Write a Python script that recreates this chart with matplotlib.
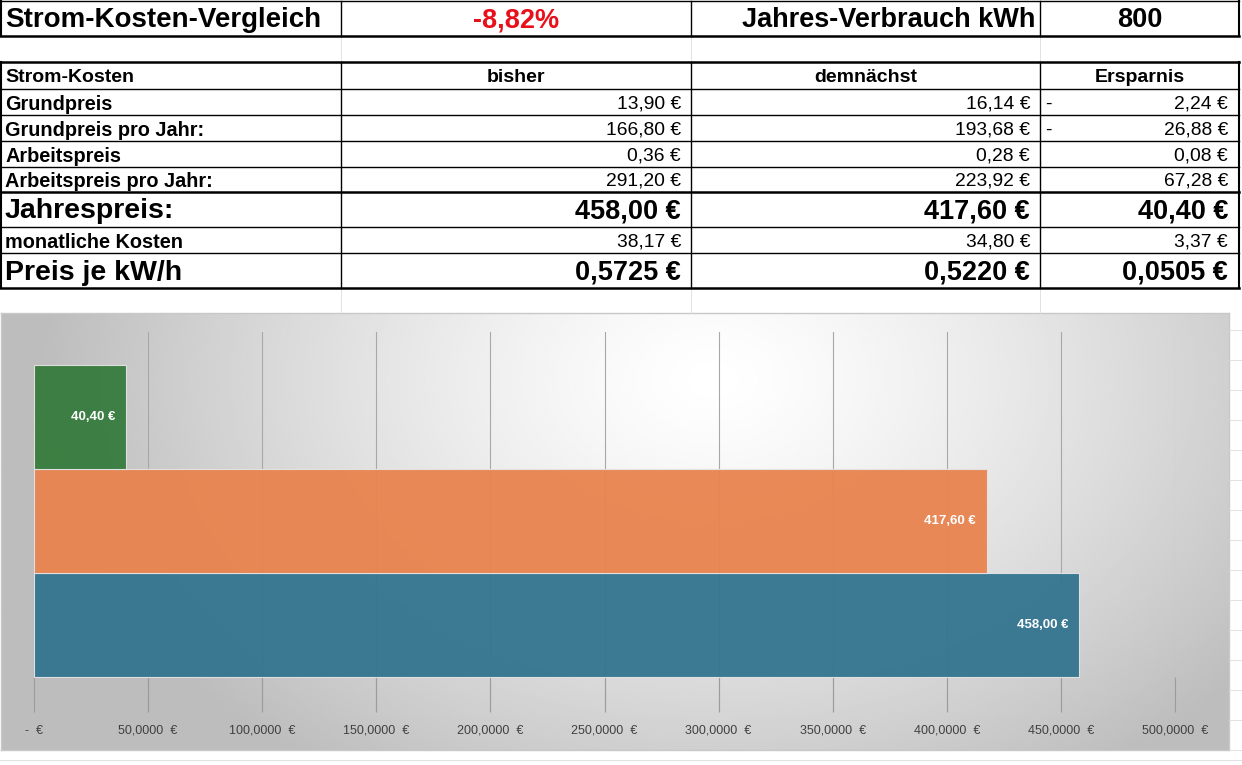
import numpy as np
import matplotlib
matplotlib.use("Agg")
import matplotlib.pyplot as plt
from matplotlib.lines import Line2D

# --- data ---
headline = "Strom-Kosten-Vergleich"
change_pct = "-8,82%"
usage_label = "Jahres-Verbrauch kWh"
usage_kwh = 800

col_headers = ["Strom-Kosten", "bisher", "demnächst", "Ersparnis"]
row_labels = ["Grundpreis", "Grundpreis pro Jahr:", "Arbeitspreis", "Arbeitspreis pro Jahr:",
              "Jahrespreis:", "monatliche Kosten", "Preis je kW/h"]
bisher = [13.90, 166.80, 0.36, 291.20, 458.00, 38.17, 0.5725]
demnaechst = [16.14, 193.68, 0.28, 223.92, 417.60, 34.80, 0.5220]
ersparnis = [-2.24, -26.88, 0.08, 67.28, 40.40, 3.37, 0.0505]
big_rows = [4, 6]

chart_names = ["bisher", "demnächst", "Ersparnis"]
chart_values = [458.00, 417.60, 40.40]
chart_colors = ["#33748f", "#e8834e", "#367b3d"]
x_ticks = [0, 50, 100, 150, 200, 250, 300, 350, 400, 450, 500]

W, H = 1242, 765
FONT = ["Liberation Sans", "DejaVu Sans"]


def fx(x):
    return x / W


def fy(y):
    return 1 - y / H


def euro(v, dec=2):
    s = f"{abs(v):,.{dec}f}".replace(",", "X").replace(".", ",").replace("X", ".")
    return s + " €"


fig = plt.figure(figsize=(W / 100, H / 100), dpi=100)
fig.patch.set_facecolor("white")


def hline(y, x0, x1, lw=1.0, color="black"):
    fig.add_artist(Line2D([fx(x0), fx(x1)], [fy(y), fy(y)], lw=lw, color=color))


def vline(x, y0, y1, lw=1.0, color="black"):
    fig.add_artist(Line2D([fx(x), fx(x)], [fy(y0), fy(y1)], lw=lw, color=color))


def cell(x, y, s, size, ha="left", weight="bold", color="black"):
    fig.text(fx(x), fy(y), s, family=FONT, weight=weight, fontsize=size,
             color=color, ha=ha, va="center")


cols = [1, 341, 691, 1040, 1239]

# faint spreadsheet grid
for x in cols[1:4]:
    vline(x, 36, 62, 0.6, "#dddddd")
    vline(x, 288, 313, 0.6, "#dddddd")
for y in [330, 360, 390, 420, 450, 480, 510, 540, 570, 600, 630, 660, 690, 720, 750]:
    hline(y, 1229, 1242, 0.6, "#dddddd")
hline(760, 0, 1242, 0.6, "#dddddd")

# --- top row ---
hline(1, 0, 1239, 1.0)
hline(36, 0, 1239, 1.8)
for x in cols:
    vline(x, 1, 36, 1.5 if x in (1, 1239) else 1.0)
cell(5, 20, headline, 20)
cell(516, 20, change_pct, 19.5, ha="center", color="#e8101a")
cell(1035, 20, usage_label, 19.5, ha="right")
cell(1140, 20, str(usage_kwh), 19.5, ha="center")

# --- table ---
row_edges = [62, 89, 115, 141, 167, 192, 227, 253, 288]
thick = {62, 192, 288}
for y in row_edges:
    hline(y, 0, 1239, 1.8 if y in thick else 1.0)
for x in cols:
    vline(x, 62, 288, 1.5 if x in (1, 1239) else 1.0)

hy = (row_edges[0] + row_edges[1]) / 2 + 2
cell(5, hy, col_headers[0], 14)
cell(516, hy, col_headers[1], 14, ha="center")
cell(866, hy, col_headers[2], 14, ha="center")
cell(1140, hy, col_headers[3], 14, ha="center")

for i, lab in enumerate(row_labels):
    yc = (row_edges[i + 1] + row_edges[i + 2]) / 2 + 2
    big = i in big_rows
    w = "bold" if big else "normal"
    dec = 4 if i == 6 else 2
    cell(5, yc, lab, 20.5 if big else 14.3)
    vs = 19.5 if big else 13.9
    cell(681, yc, euro(bisher[i], dec), vs, ha="right", weight=w)
    cell(1030, yc, euro(demnaechst[i], dec), vs, ha="right", weight=w)
    cell(1228, yc, euro(ersparnis[i], dec), vs, ha="right", weight=w)
    if ersparnis[i] < 0:
        cell(1045, yc, "-", vs, weight="normal")

# --- chart background with radial gradient ---
bg = fig.add_axes([fx(1), fy(750), (1229 - 1) / W, (750 - 313) / H])
gx, gy = np.meshgrid(np.linspace(0, 1, 400), np.linspace(0, 1, 200))
r = np.sqrt(((gx - 0.58) / 0.55) ** 2 + ((gy - 0.15) / 1.1) ** 2)
shade = 1.0 - 0.26 * np.clip(r, 0, 1) ** 1.3
bg.imshow(shade, cmap="gray", vmin=0, vmax=1, aspect="auto",
          extent=[0, 1, 1, 0], interpolation="bilinear")
bg.set_xticks([])
bg.set_yticks([])
for s in bg.spines.values():
    s.set_color("#c8c8c8")
    s.set_linewidth(1.0)

# --- bar chart ---
ax = fig.add_axes([fx(34), fy(712), (1175 - 34) / W, (712 - 332) / H])
ax.patch.set_alpha(0)
pos = np.arange(len(chart_values))
bars = ax.barh(pos, chart_values, height=1.0, color=chart_colors, alpha=0.95,
               edgecolor="#e4e4e4", linewidth=0.8, zorder=2)
ax.set_xlim(0, 500)
ax.set_ylim(-0.84, 2.82)
ax.set_yticks([])
ax.set_xticks(x_ticks)
ax.set_xticklabels(["-  €" if t == 0 else f"{t},0000  €" for t in x_ticks],
                   family=FONT, fontsize=9, color="#404040")
ax.tick_params(axis="x", direction="in", length=25, width=0.8, color="#9c9c9c", pad=9)
ax.grid(axis="x", color="#a8a8a8", lw=0.8, zorder=1)
ax.xaxis.get_gridlines()[0].set_visible(False)
for s in ax.spines.values():
    s.set_visible(False)

for b, v in zip(bars, chart_values):
    ax.annotate(euro(v), (v, b.get_y() + b.get_height() / 2), xytext=(-8, 0),
                textcoords="offset points", ha="right", va="center",
                color="white", weight="bold", fontsize=9.5, family=FONT, zorder=3)

fig.savefig("out.png", dpi=100)
